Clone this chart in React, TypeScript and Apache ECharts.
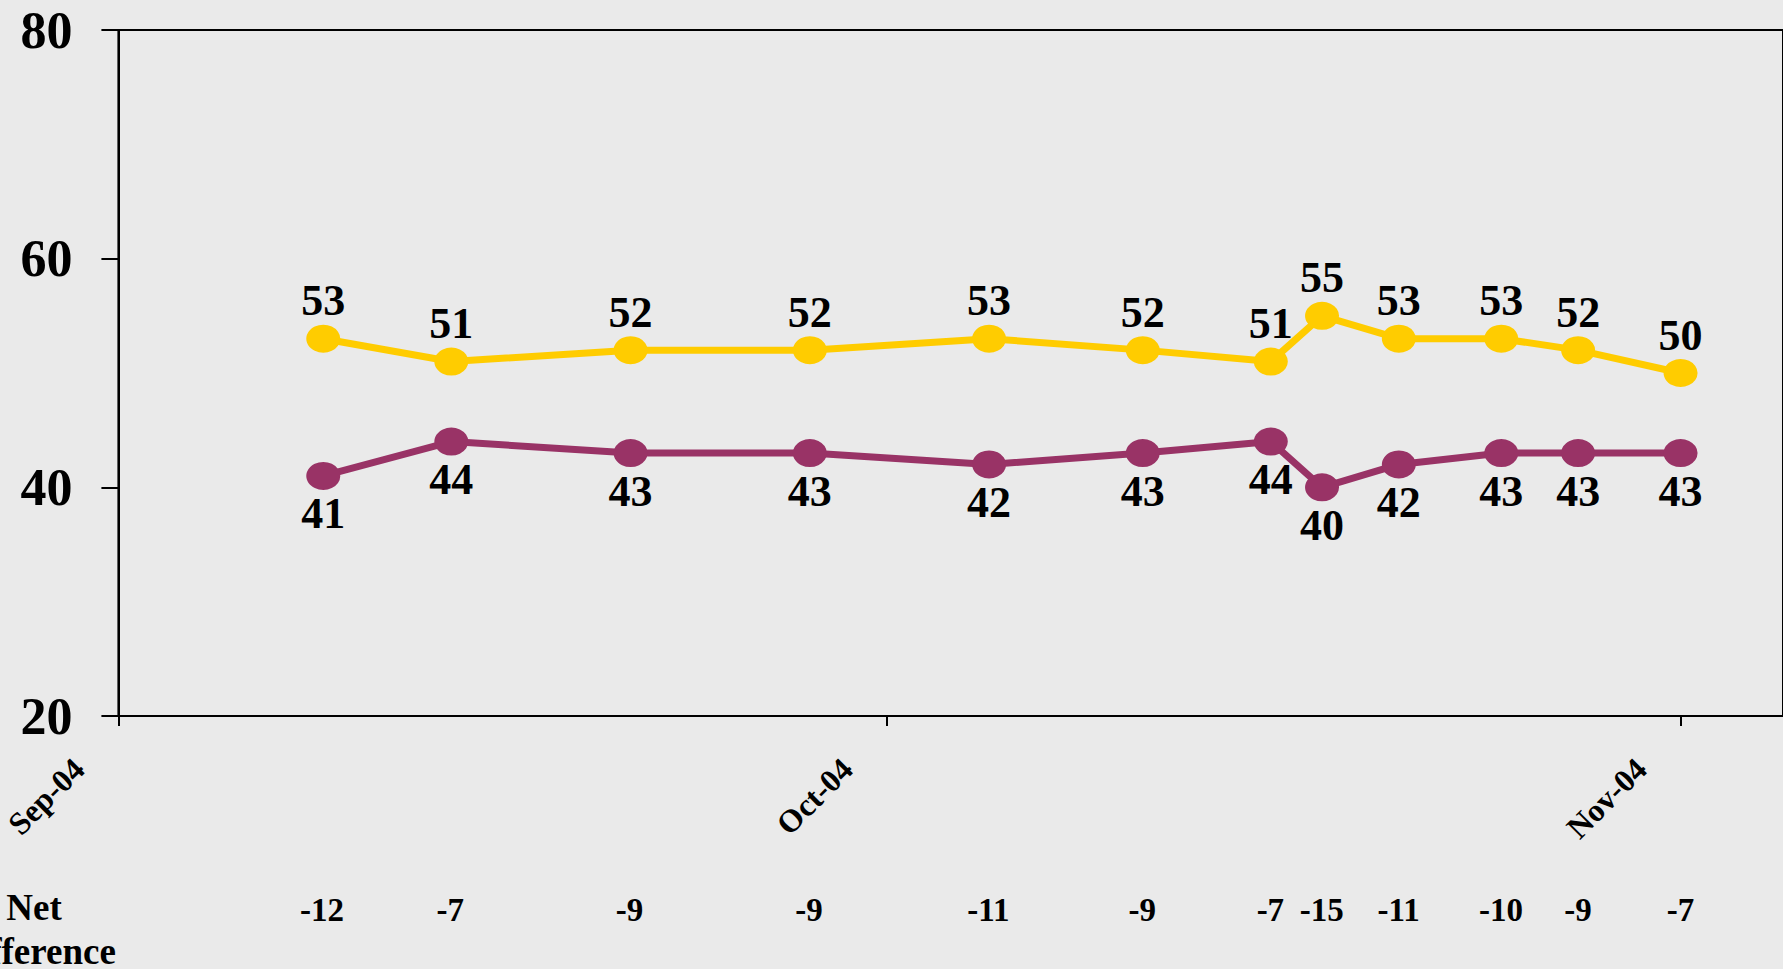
import React, { useEffect, useRef } from "react";
import * as echarts from "echarts";

const monthNames = ["Jan", "Feb", "Mar", "Apr", "May", "Jun", "Jul", "Aug", "Sep", "Oct", "Nov", "Dec"];
const pollDates = [
  "2004-09-09", "2004-09-14", "2004-09-21", "2004-09-28", "2004-10-05", "2004-10-11",
  "2004-10-16", "2004-10-18", "2004-10-21", "2004-10-25", "2004-10-28", "2004-11-01",
];
const yellowValues = [53, 51, 52, 52, 53, 52, 51, 55, 53, 53, 52, 50];
const purpleValues = [41, 44, 43, 43, 42, 43, 44, 40, 42, 43, 43, 43];
const netDifference = [-12, -7, -9, -9, -11, -9, -7, -15, -11, -10, -9, -7];
const monthTicks = ["2004-09-01", "2004-10-01", "2004-11-01"];
const axisStart = "2004-09-01";
const axisEnd = "2004-11-05";
const yMin = 20;
const yMax = 80;
const yInterval = 20;

const toMs = (s: string) => {
  const [y, m, d] = s.split("-").map(Number);
  return new Date(y, m - 1, d).getTime();
};

const FONT = "'Liberation Serif', 'Times New Roman', serif";
const YELLOW = "#FFCC00";
const PURPLE = "#993366";

export default function App() {
  const ref = useRef<HTMLDivElement>(null);
  useEffect(() => {
    if (!ref.current) return;
    const chart = echarts.init(ref.current, undefined, { renderer: "svg" });
    const xMin = toMs(axisStart);
    const xMax = toMs(axisEnd);
    const tickVals = monthTicks.map(toMs);
    const labelStyle = { color: "#000", fontFamily: FONT, fontWeight: "bold" as const };

    chart.setOption({
      animation: false,
      backgroundColor: "#EAEAEA",
      grid: [
        { left: 117, top: 30, width: 1674, height: 686, show: true, borderColor: "#000", borderWidth: 2, backgroundColor: "transparent" },
        { left: 117, top: 890, width: 1674, height: 40, show: false },
      ],
      xAxis: [
        {
          type: "value",
          gridIndex: 0,
          min: xMin,
          max: xMax,
          axisLine: { show: true, lineStyle: { color: "#000", width: 2 } },
          axisTick: { show: true, length: 10, customValues: tickVals, lineStyle: { color: "#000", width: 2 } },
          splitLine: { show: false },
          axisLabel: {
            customValues: tickVals,
            rotate: 45,
            margin: 8,
            padding: [0, 56, 0, 0],
            fontSize: 32,
            ...labelStyle,
            formatter: (v: number) => {
              const d = new Date(v);
              return monthNames[d.getMonth()] + "-" + String(d.getFullYear()).slice(2);
            },
          },
        },
        { type: "value", gridIndex: 1, min: xMin, max: xMax, show: false },
      ],
      yAxis: [
        {
          type: "value",
          gridIndex: 0,
          min: yMin,
          max: yMax,
          interval: yInterval,
          axisLine: { show: true, lineStyle: { color: "#000", width: 2 } },
          axisTick: { show: true, length: 17, lineStyle: { color: "#000", width: 2 } },
          splitLine: { show: false },
          axisLabel: { margin: 46, fontSize: 52, ...labelStyle },
        },
        { type: "value", gridIndex: 1, min: 0, max: 1, show: false },
      ],
      series: [
        {
          type: "line",
          xAxisIndex: 0,
          yAxisIndex: 0,
          data: pollDates.map((d, i) => [toMs(d), yellowValues[i]]),
          symbol: "circle",
          symbolSize: [34, 28],
          lineStyle: { color: YELLOW, width: 7 },
          itemStyle: { color: YELLOW },
          label: { show: true, position: "top", distance: 2, fontSize: 44, ...labelStyle, formatter: (p: any) => String(p.value[1]) },
        },
        {
          type: "line",
          xAxisIndex: 0,
          yAxisIndex: 0,
          data: pollDates.map((d, i) => [toMs(d), purpleValues[i]]),
          symbol: "circle",
          symbolSize: [34, 28],
          lineStyle: { color: PURPLE, width: 7 },
          itemStyle: { color: PURPLE },
          label: { show: true, position: "bottom", distance: 2, fontSize: 44, ...labelStyle, formatter: (p: any) => String(p.value[1]) },
        },
        {
          type: "scatter",
          xAxisIndex: 1,
          yAxisIndex: 1,
          data: pollDates.map((d, i) => [toMs(d), 0.5, netDifference[i]]),
          symbolSize: 1,
          itemStyle: { color: "rgba(0,0,0,0)", opacity: 1 },
          label: {
            show: true,
            position: "inside",
            fontSize: 33,
            ...labelStyle,
            opacity: 1,
            textBorderWidth: 0,
            textBorderColor: "transparent",
            formatter: (p: any) => String(p.value[2]),
          },
        },
      ],
      graphic: [
        {
          type: "text",
          x: 34,
          y: 885,
          style: { text: "Net\nDifference", align: "center", verticalAlign: "top", lineHeight: 44, fontSize: 37, fontFamily: FONT, fontWeight: "bold", fill: "#000" },
        },
      ],
    });
    return () => chart.dispose();
  }, []);
  return <div ref={ref} style={{ position: "fixed", left: 0, top: 0, width: 1783, height: 969 }} />;
}
